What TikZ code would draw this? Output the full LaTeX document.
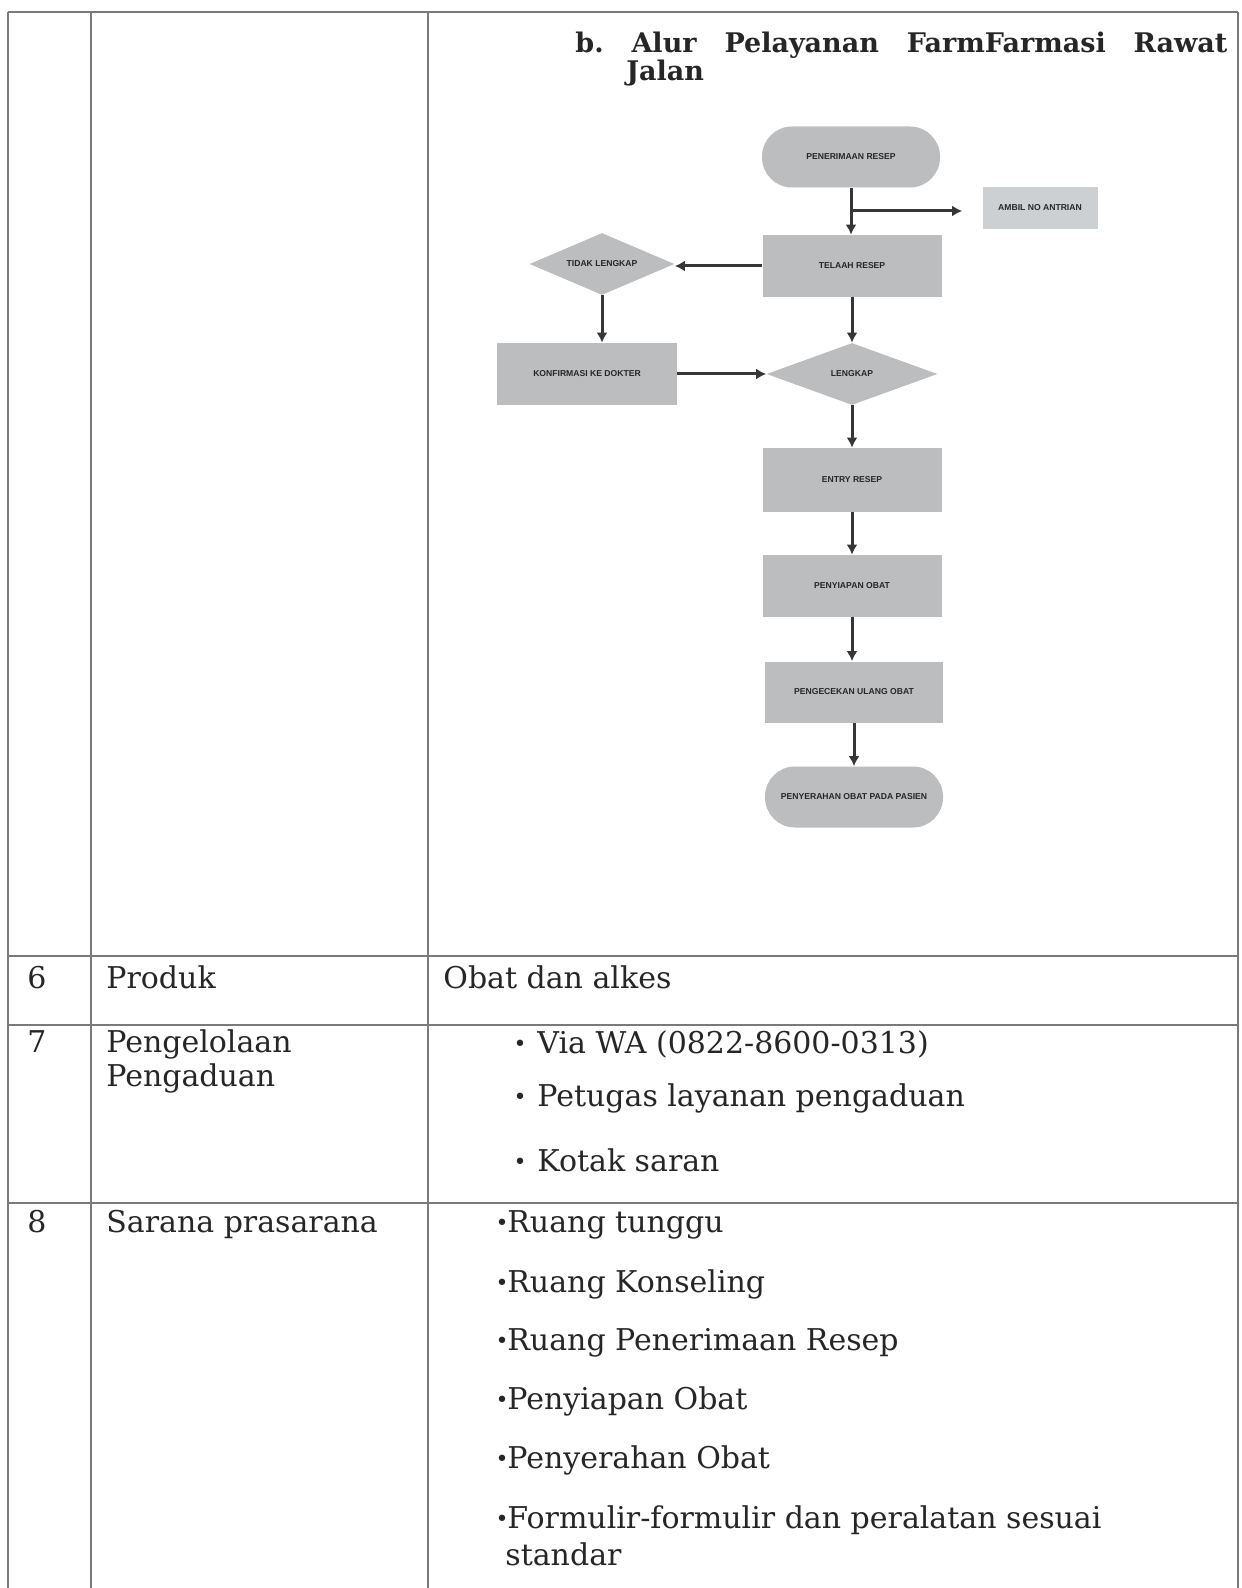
\documentclass[tikz,border=0pt]{standalone}
\usepackage{fontspec}
\setmainfont{DejaVu Serif}
\newfontfamily\flowfont{Liberation Sans}
\usetikzlibrary{shapes.geometric,arrows.meta}
\definecolor{flowgray}{HTML}{BBBDBF}
\definecolor{flowlight}{HTML}{CDD0D3}
\definecolor{linegray}{HTML}{7A7A7A}
\definecolor{arrowgray}{HTML}{363636}
\definecolor{inkcol}{HTML}{262626}
\begin{document}
\begin{tikzpicture}[x=0.5pt,y=-0.5pt,
  tbl/.style={draw=linegray,line width=1pt},
  body/.style={anchor=base west,inner sep=0pt,text=inkcol,font=\fontsize{15pt}{18pt}\selectfont},
  bul/.style={anchor=base,inner sep=0pt,text=inkcol,font=\fontsize{11pt}{12pt}\selectfont},
  ttl/.style={anchor=base west,inner sep=0pt,text=inkcol,font=\bfseries\fontsize{13.5pt}{16pt}\selectfont},
  flowtxt/.style={font=\flowfont\bfseries\fontsize{4.3pt}{5pt}\selectfont,text=black!85,inner sep=1pt},
  procbox/.style={flowtxt,rectangle,fill=flowgray,minimum width=89.5pt,minimum height=31pt},
  termbox/.style={flowtxt,rectangle,rounded corners=15pt,fill=flowgray,minimum width=89pt,minimum height=30.5pt},
  decbox/.style={flowtxt,diamond,fill=flowgray,aspect=2.6,inner sep=0pt},
  arr/.style={draw=arrowgray,line width=1.5pt,-{Latex[length=5pt,width=5.5pt]}}
]
\useasboundingbox (0,0) rectangle (1241,1588);
\fill[white] (0,0) rectangle (1241,1588);

% table grid
\draw[tbl] (8,12) -- (1238,12);
\draw[tbl] (8,12) -- (8,1588);
\draw[tbl] (91,12) -- (91,1588);
\draw[tbl] (428,12) -- (428,1588);
\draw[tbl] (1238,12) -- (1238,1588);
\draw[tbl] (8,956) -- (1238,956);
\draw[tbl] (8,1025) -- (1238,1025);
\draw[tbl] (8,1203) -- (1238,1203);

% title
\node[ttl] (title1) at (575,53) {\makebox[326pt][s]{b.\hfill Alur\hfill Pelayanan\hfill FarmFarmasi\hfill Rawat}};
\node[ttl] (title2) at (626,81) {Jalan};

% flowchart
\node[termbox] (start) at (851,157) {PENERIMAAN RESEP};
\node[flowtxt,rectangle,fill=flowlight,minimum width=57.5pt,minimum height=21pt] (antri) at (1040,208) {AMBIL NO ANTRIAN};
\node[procbox] (telaah) at (852,266) {TELAAH RESEP};
\node[decbox,minimum width=72.5pt,minimum height=31pt] (tidak) at (602,264) {TIDAK LENGKAP};
\node[procbox,minimum width=90pt] (konf) at (587,374) {KONFIRMASI KE DOKTER};
\node[decbox,minimum width=85.5pt,minimum height=31pt] (lengkap) at (852,374) {LENGKAP};
\node[procbox,minimum height=32pt] (entry) at (852,480) {ENTRY RESEP};
\node[procbox] (siap) at (852,586) {PENYIAPAN OBAT};
\node[procbox,minimum width=89pt,minimum height=30.5pt] (cek) at (854,692) {PENGECEKAN ULANG OBAT};
\node[termbox] (finish) at (854,797) {PENYERAHAN OBAT PADA PASIEN};

\coordinate (br) at (851,211);
\draw[arr] (start.south) -- (start.south |- telaah.north);
\draw[arr,shorten >=10pt] (br) -- (br -| antri.west);
\draw[arr] (telaah.west) -- (telaah.west -| tidak.east);
\draw[arr] (tidak.south) -- (tidak.south |- konf.north);
\draw[arr] (konf.east) -- (konf.east -| lengkap.west);
\draw[arr] (telaah.south) -- (lengkap.north);
\draw[arr] (lengkap.south) -- (entry.north);
\draw[arr] (entry.south) -- (siap.north);
\draw[arr] (siap.south) -- (siap.south |- cek.north);
\draw[arr] (cek.south) -- (cek.south |- finish.north);

% row 6
\node[body] (n6) at (27,988) {6};
\node[body] (produk) at (106,988) {Produk};
\node[body] (obat) at (443,988) {Obat dan alkes};

% row 7
\node[body] (n7) at (27,1052) {7};
\node[body] (peng1) at (106,1052) {Pengelolaan};
\node[body] (peng2) at (106,1086) {Pengaduan};
\node[bul] (b71) at (520,1051) {•};
\node[body] (wa) at (537,1053) {Via WA (0822-8600-0313)};
\node[bul] (b72) at (520,1104) {•};
\node[body] (petugas) at (537,1106) {Petugas layanan pengaduan};
\node[bul] (b73) at (520,1169) {•};
\node[body] (kotak) at (537,1171) {Kotak saran};

% row 8
\node[body] (n8) at (27,1232) {8};
\node[body] (sarana) at (106,1232) {Sarana prasarana};
\node[bul] (sb1) at (502,1230) {•};
\node[body] (s1) at (507,1232) {Ruang tunggu};
\node[bul] (sb2) at (502,1290) {•};
\node[body] (s2) at (507,1292) {Ruang Konseling};
\node[bul] (sb3) at (502,1348) {•};
\node[body] (s3) at (507,1350) {Ruang Penerimaan Resep};
\node[bul] (sb4) at (502,1407) {•};
\node[body] (s4) at (507,1409) {Penyiapan Obat};
\node[bul] (sb5) at (502,1466) {•};
\node[body] (s5) at (507,1468) {Penyerahan Obat};
\node[bul] (sb6) at (502,1526) {•};
\node[body] (s6) at (507,1528) {Formulir-formulir dan peralatan sesuai};
\node[body] (s7) at (505,1565) {standar};
\end{tikzpicture}
\end{document}
